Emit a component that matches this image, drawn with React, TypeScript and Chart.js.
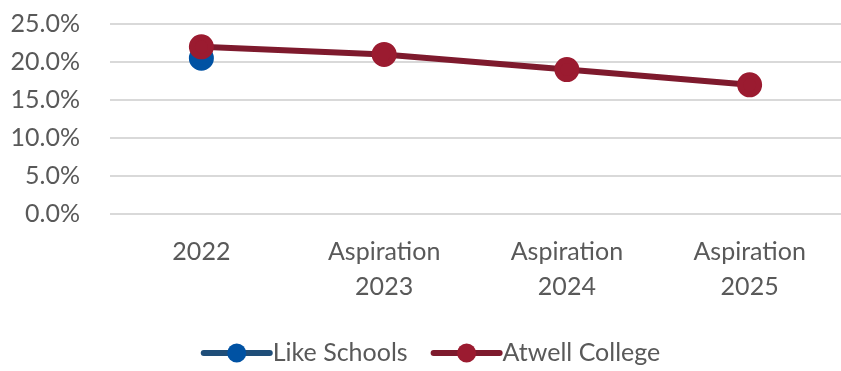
import React, { useEffect, useRef } from "react";
import { Chart, registerables } from "chart.js";

Chart.register(...registerables);

const categories: (string | string[])[] = [
  "2022",
  ["Aspiration", "2023"],
  ["Aspiration", "2024"],
  ["Aspiration", "2025"],
];
const likeSchools: (number | null)[] = [0.205, null, null, null];
const atwellCollege: number[] = [0.22, 0.21, 0.19, 0.17];
const seriesNames = ["Like Schools", "Atwell College"];
const lineColors = ["#1F4E79", "#7E1A2D"];
const markerColors = ["#0052A3", "#9B1B30"];

const FONT = "Lato, 'Open Sans', sans-serif";
const TEXT_COLOR = "#595959";

const legendPlugin = {
  id: "customLegend",
  afterDraw(chart: any) {
    const ctx = chart.ctx as CanvasRenderingContext2D;
    ctx.save();
    ctx.font = `25px ${FONT}`;
    const symW = 66;
    const gapText = 3;
    const gapItem = 26;
    const widths = seriesNames.map((n) => symW + gapText + ctx.measureText(n).width);
    const total = widths.reduce((a, b) => a + b, 0) + gapItem;
    let x = 432 - total / 2;
    const y = 353;
    seriesNames.forEach((name, i) => {
      ctx.strokeStyle = lineColors[i];
      ctx.lineWidth = 6;
      ctx.lineCap = "round";
      ctx.beginPath();
      ctx.moveTo(x, y);
      ctx.lineTo(x + symW, y);
      ctx.stroke();
      ctx.fillStyle = markerColors[i];
      ctx.beginPath();
      ctx.arc(x + symW / 2, y, 9.5, 0, Math.PI * 2);
      ctx.fill();
      ctx.fillStyle = TEXT_COLOR;
      ctx.textBaseline = "middle";
      ctx.textAlign = "left";
      ctx.fillText(name, x + symW + gapText, y);
      x += widths[i] + gapItem;
    });
    ctx.restore();
  },
};

export default function App() {
  const ref = useRef<HTMLCanvasElement>(null);
  useEffect(() => {
    document.body.style.margin = "0";
    let chart: Chart | null = null;
    let cancelled = false;
    const make = () => {
      if (cancelled || !ref.current) return;
      chart = new Chart(ref.current, {
        type: "line",
        data: {
          labels: categories,
          datasets: [
            {
              label: seriesNames[0],
              data: likeSchools,
              borderColor: lineColors[0],
              backgroundColor: markerColors[0],
              pointBackgroundColor: markerColors[0],
              pointBorderColor: markerColors[0],
              pointRadius: 9.5,
              borderWidth: 6,
              order: 1,
            },
            {
              label: seriesNames[1],
              data: atwellCollege,
              borderColor: lineColors[1],
              backgroundColor: markerColors[1],
              pointBackgroundColor: markerColors[1],
              pointBorderColor: markerColors[1],
              pointRadius: 9.5,
              borderWidth: 6,
              order: 0,
            },
          ],
        },
        options: {
          animation: false,
          responsive: false,
          maintainAspectRatio: false,
          layout: { autoPadding: false, padding: { left: 10, right: -9, top: 24, bottom: 55 } },
          plugins: {
            legend: { display: false },
            tooltip: { enabled: false },
          },
          scales: {
            x: {
              offset: true,
              grid: { display: false },
              border: { display: false },
              afterFit: (s: any) => {
                s.paddingLeft = 0;
                s.paddingRight = 0;
              },
              ticks: {
                color: TEXT_COLOR,
                font: { family: FONT, size: 25, lineHeight: 1.4 },
                maxRotation: 0,
                autoSkip: false,
                padding: 12,
              },
            },
            y: {
              min: 0,
              max: 0.25,
              grid: { color: "#D9D9D9", lineWidth: 2, drawTicks: false },
              border: { display: false },
              afterFit: (s: any) => {
                s.width = 100;
                s.paddingTop = 0;
                s.paddingBottom = 0;
              },
              ticks: {
                stepSize: 0.05,
                autoSkip: false,
                color: TEXT_COLOR,
                font: { family: FONT, size: 25 },
                padding: 30,
                callback: (v: any) => (Number(v) * 100).toFixed(1) + "%",
              },
            },
          },
        },
        plugins: [legendPlugin],
      });
    };
    const fonts = (document as any).fonts;
    if (fonts && fonts.load) {
      fonts.load(`25px Lato`).then(make, make);
    } else {
      make();
    }
    return () => {
      cancelled = true;
      if (chart) chart.destroy();
    };
  }, []);
  return <canvas ref={ref} width={841} height={371} style={{ display: "block" }} />;
}
